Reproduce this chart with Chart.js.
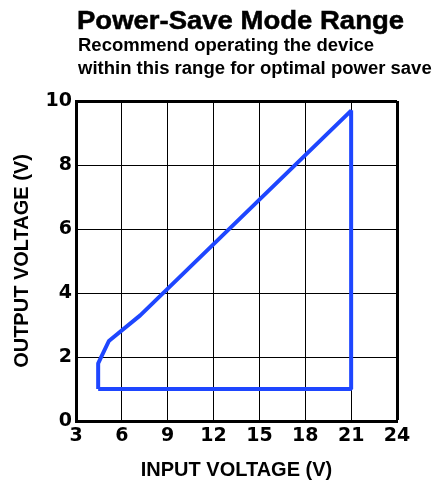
<!DOCTYPE html>
<html>
<head>
<meta charset="utf-8">
<script src="https://cdn.jsdelivr.net/npm/chart.js@4"></script>
<style>
  html, body { margin: 0; padding: 0; background: #fff; }
  #wrap { position: relative; width: 435px; height: 487px; }
  #chart { position: absolute; left: 0; top: 0; }
  .t { position: absolute; font-family: "Liberation Sans", Arial, sans-serif; font-weight: bold; color: #000; white-space: nowrap; pointer-events: none; }
  #title { left: 77px; top: 8px; font-size: 25px; line-height: 25px; transform: scaleX(1.1); transform-origin: 0 0; -webkit-text-stroke: 0.5px #000; }
  #sub { left: 78px; top: 34px; font-size: 18px; line-height: 23.3px; transform: scaleX(1.028); transform-origin: 0 0; }
</style>
</head>
<body>
<div id="wrap">
  <canvas id="chart" width="435" height="487"></canvas>
  <div class="t" id="title">Power-Save Mode Range</div>
  <div class="t" id="sub">Recommend operating the device<br>within this range for optimal power save</div>
</div>
<script>
// outline of the recommended operating region
const inputVoltage = [4.45, 4.45, 5.15, 7.2, 21.0, 21.0, 4.45];
const outputVoltage = [1.0, 1.8, 2.5, 3.3, 9.7, 1.0, 1.0];

const xTicks = [3, 6, 9, 12, 15, 18, 21, 24];
const yTicks = [0, 2, 4, 6, 8, 10];

const tickFont = { family: "'DejaVu Sans', sans-serif", size: 19, weight: "bold" };
const titleFont = { family: "'Liberation Sans', Arial, sans-serif", size: 20, weight: "bold" };

new Chart(document.getElementById("chart"), {
    type: "scatter",
    data: {
        datasets: [{
            data: inputVoltage.map((x, i) => ({ x: x, y: outputVoltage[i] })),
            showLine: true,
            borderColor: "#1e46ff",
            borderWidth: 4,
            borderJoinStyle: "bevel",
            pointRadius: 0,
            tension: 0,
        }]
    },
    options: {
        responsive: false,
        animation: false,
        layout: { padding: { top: 101, right: 38, left: 0, bottom: 0 } },
        scales: {
            x: {
                type: "linear",
                min: xTicks[0],
                max: xTicks[xTicks.length - 1],
                afterFit: (s) => { s.height = 66; },
                afterBuildTicks: (s) => { s.ticks = xTicks.map(v => ({ value: v })); },
                grid: {
                    color: "#000",
                    lineWidth: (c) => c.tick && c.tick.value === 24 ? 3 : 1,
                    drawTicks: false,
                },
                border: { color: "#000", width: 3 },
                ticks: { font: tickFont, color: "#000", padding: 4, maxRotation: 0 },
                title: {
                    display: true,
                    text: "INPUT VOLTAGE (V)",
                    font: titleFont,
                    color: "#000",
                    padding: { top: 0, bottom: 5 },
                },
            },
            y: {
                min: yTicks[0],
                max: yTicks[yTicks.length - 1],
                afterFit: (s) => { s.width = 76; },
                afterBuildTicks: (s) => { s.ticks = yTicks.map(v => ({ value: v })); },
                grid: {
                    color: "#000",
                    lineWidth: (c) => c.tick && c.tick.value === 10 ? 3 : 1,
                    drawTicks: false,
                },
                border: { color: "#000", width: 3 },
                ticks: { font: tickFont, color: "#000", padding: 4 },
                title: {
                    display: true,
                    text: "OUTPUT VOLTAGE (V)",
                    font: titleFont,
                    color: "#000",
                    padding: { top: 10, bottom: 0 },
                },
            },
        },
        plugins: {
            legend: { display: false },
            tooltip: { enabled: false },
        }
    }
});
</script>
</body>
</html>
